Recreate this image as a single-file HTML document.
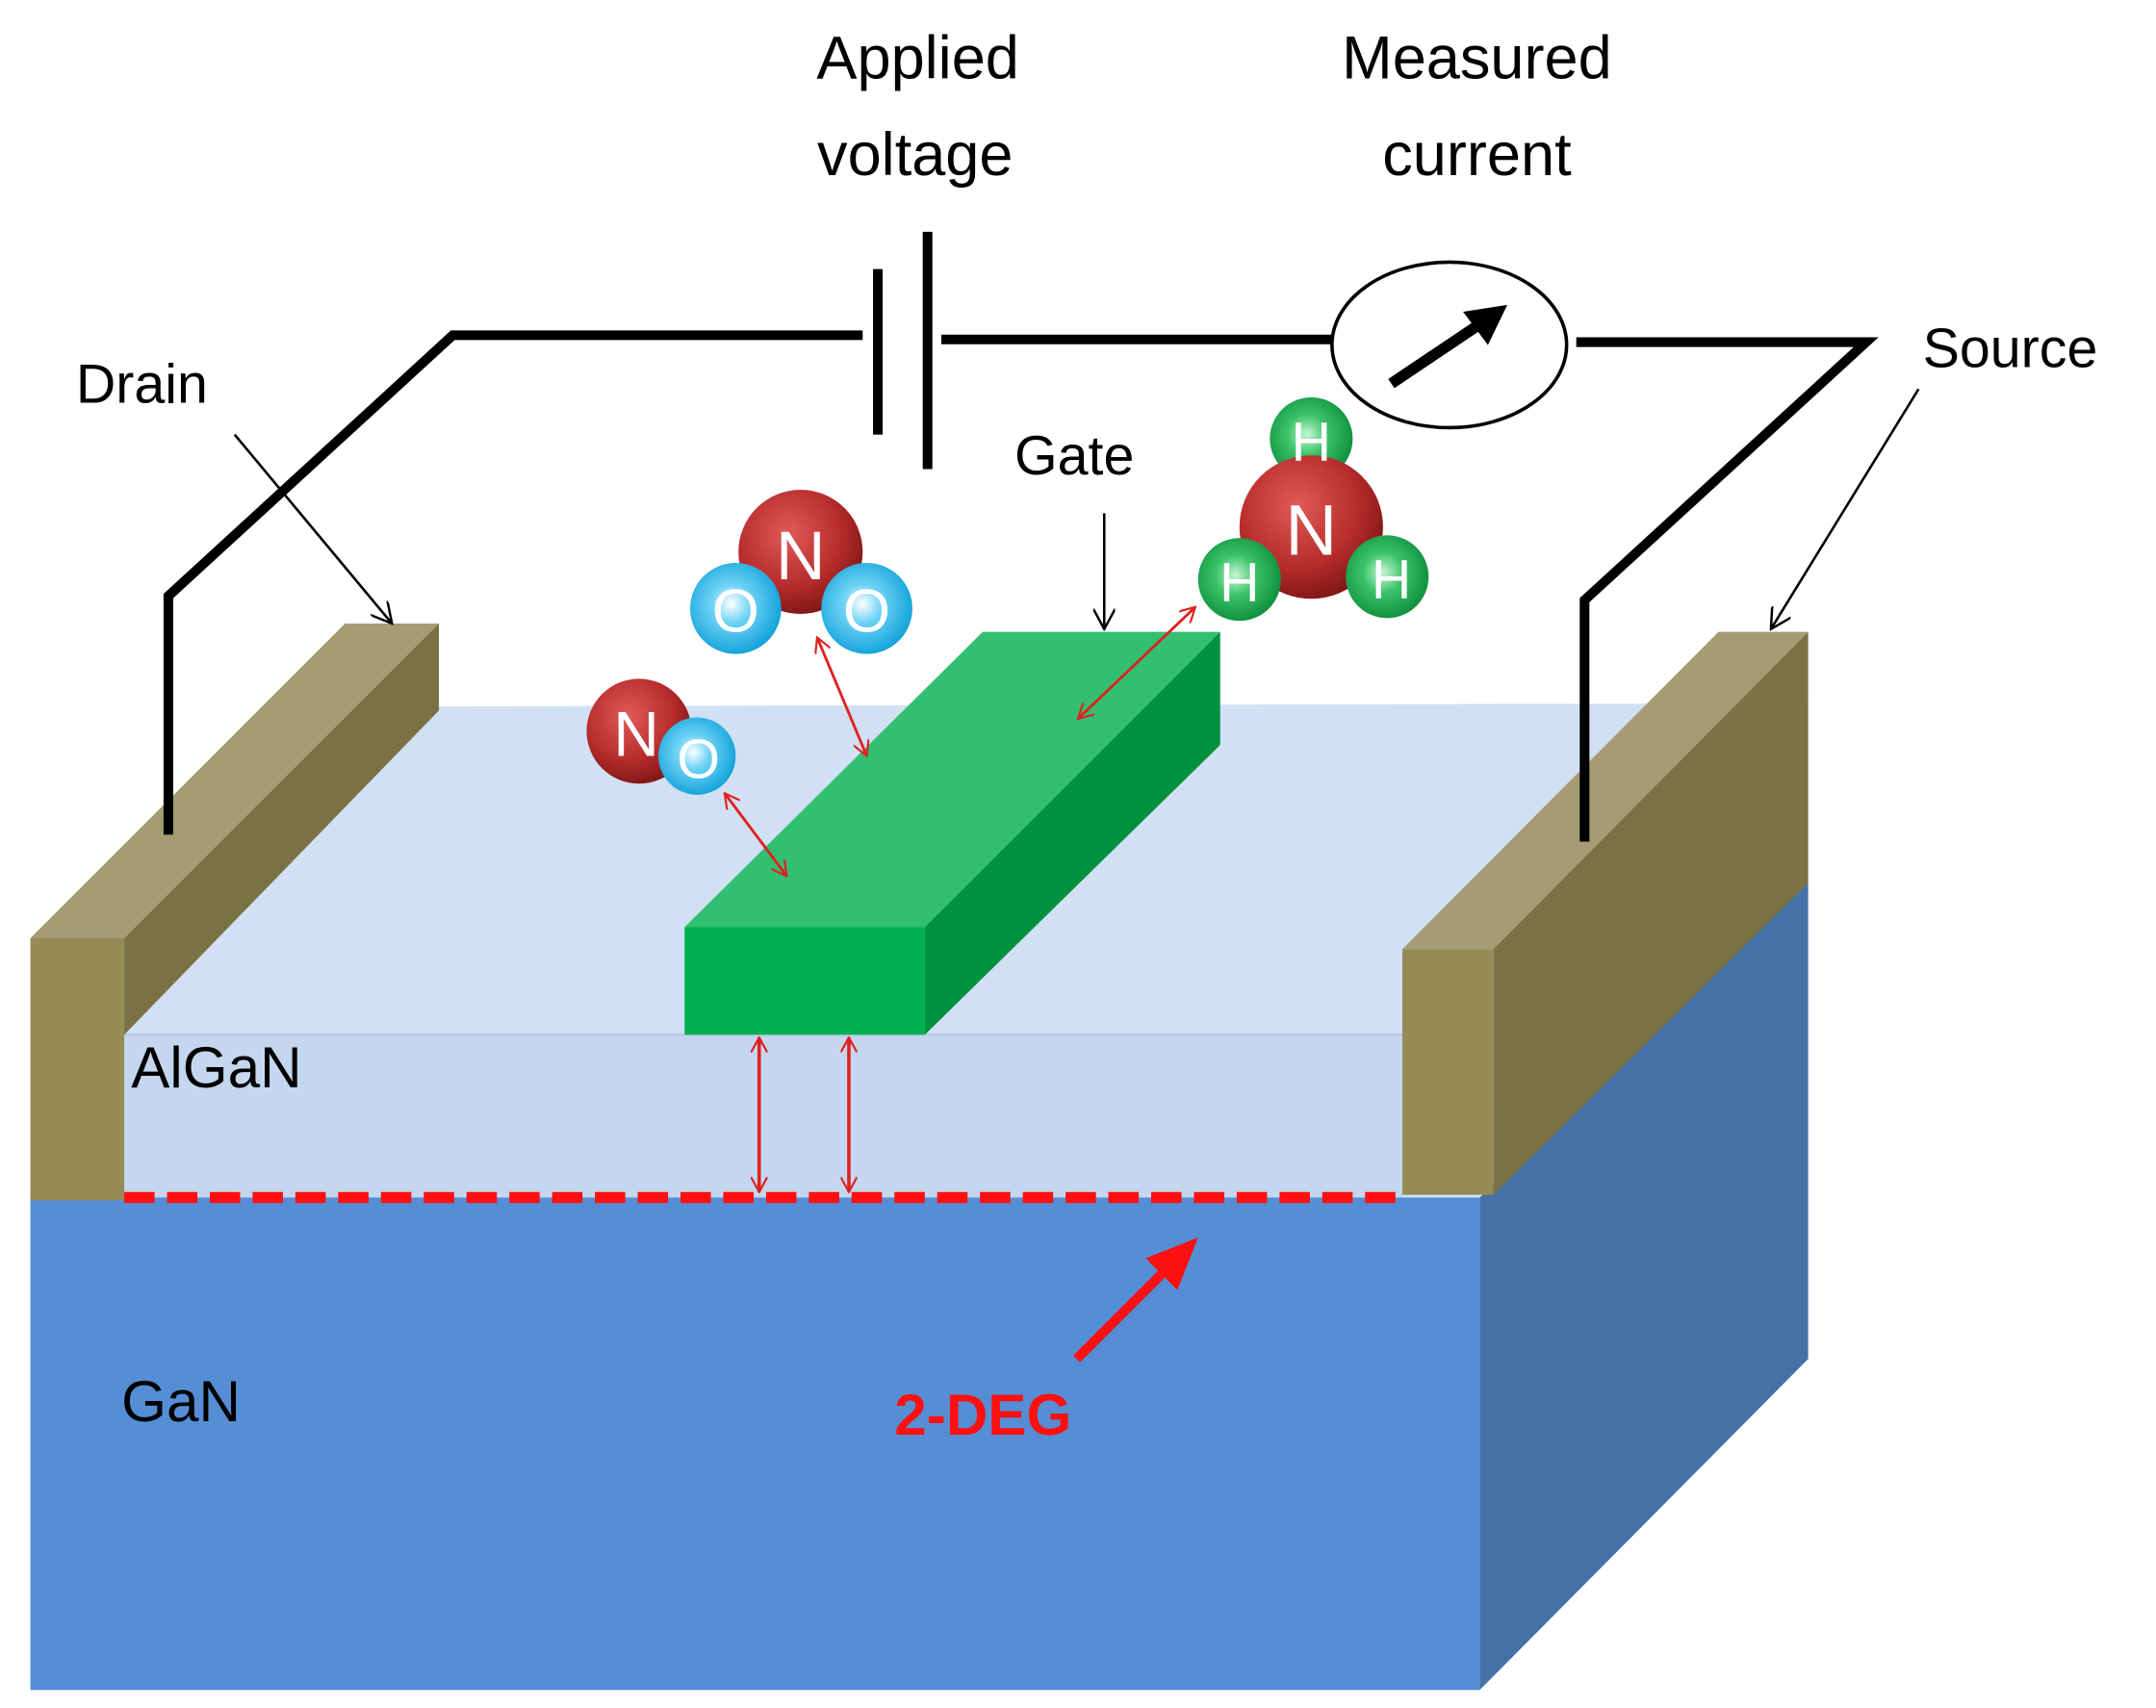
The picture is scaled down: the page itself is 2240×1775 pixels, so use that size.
<!DOCTYPE html>
<html><head><meta charset="utf-8"><style>
html,body{margin:0;padding:0;background:#fff;}
svg{display:block}
text{font-family:"Liberation Sans",sans-serif;}
</style></head><body>
<svg width="2240" height="1775" viewBox="0 0 1562 1238" preserveAspectRatio="none" xmlns="http://www.w3.org/2000/svg">
<defs>
<radialGradient id="rN" cx="0.4" cy="0.35" r="0.7"><stop offset="0" stop-color="#e05a5a"/><stop offset="0.6" stop-color="#b82c2c"/><stop offset="1" stop-color="#7a1414"/></radialGradient>
<radialGradient id="rO" cx="0.45" cy="0.45" r="0.6"><stop offset="0" stop-color="#ffffff"/><stop offset="0.35" stop-color="#6fd3f5"/><stop offset="1" stop-color="#0a9ed8"/></radialGradient>
<radialGradient id="rH" cx="0.45" cy="0.45" r="0.6"><stop offset="0" stop-color="#c8f5d6"/><stop offset="0.4" stop-color="#3cc46a"/><stop offset="1" stop-color="#0a8a3a"/></radialGradient>
<marker id="ah" viewBox="0 0 12 12" refX="11" refY="6" markerWidth="12" markerHeight="12" orient="auto-start-reverse" markerUnits="userSpaceOnUse"><path d="M0,0 L11,6 L0,12" fill="none" stroke="#e02020" stroke-width="1.5"/></marker>
<marker id="ak" viewBox="0 0 14 14" refX="13" refY="7" markerWidth="16" markerHeight="16" orient="auto" markerUnits="userSpaceOnUse"><path d="M0,0 L13,7 L0,14" fill="none" stroke="#000" stroke-width="1.5"/></marker>
</defs>
<rect x="22" y="868" width="1050" height="357" fill="#558ed5"/>
<polygon points="1072,868 1310,640 1310,985 1072,1225" fill="#4472a8"/>
<polygon points="90,750 318,512 1200,510 1310,510 1310,640 1072,868 1016,868 1016,750" fill="#d2e0f3"/>
<rect x="90" y="750" width="926" height="118" fill="#c5d7ee"/>
<line x1="90" y1="750" x2="1016" y2="750" stroke="#b9cbe4" stroke-width="2"/>
<polygon points="22,680 250,452 318,452 90,680" fill="#a59c74"/>
<polygon points="90,680 318,452 318,515 90,750" fill="#7a7145"/>
<rect x="22" y="680" width="68" height="190" fill="#968a56"/>
<polygon points="1016,688 1245,458 1310,458 1082,688" fill="#a59c74"/>
<polygon points="1082,688 1310,458 1310,640 1082,866" fill="#7a7145"/>
<rect x="1016" y="688" width="66" height="178" fill="#968a56"/>
<polygon points="496,672 712,458 884,458 670,672" fill="#33bf72"/>
<polygon points="670,672 884,458 884,540 670,750" fill="#00913f"/>
<rect x="496" y="672" width="174" height="78" fill="#00b050"/>
<line x1="90" y1="868" x2="1016" y2="868" stroke="#ff1010" stroke-width="8" stroke-dasharray="22,9"/>
<line x1="550" y1="752" x2="550" y2="864" stroke="#e02020" stroke-width="2.5" marker-start="url(#ah)" marker-end="url(#ah)"/>
<line x1="615" y1="752" x2="615" y2="864" stroke="#e02020" stroke-width="2.5" marker-start="url(#ah)" marker-end="url(#ah)"/>
<polyline points="122,605 122,432 328,243 625,243" fill="none" stroke="#000" stroke-width="7"/>
<line x1="636" y1="195" x2="636" y2="315" stroke="#000" stroke-width="7"/>
<line x1="672" y1="168" x2="672" y2="340" stroke="#000" stroke-width="7"/>
<line x1="682" y1="246" x2="965" y2="246" stroke="#000" stroke-width="7"/>
<ellipse cx="1050" cy="250" rx="85" ry="60" fill="none" stroke="#000" stroke-width="2.5"/>
<line x1="1008" y1="278" x2="1075" y2="233" stroke="#000" stroke-width="8"/>
<polygon points="1092,221 1060,226 1078,250" fill="#000"/>
<polyline points="1142,248 1352,248 1148,435 1148,610" fill="none" stroke="#000" stroke-width="7"/>
<text x="665" y="57" font-size="44" text-anchor="middle">Applied</text>
<text x="663" y="127" font-size="44" text-anchor="middle">voltage</text>
<text x="1070" y="57" font-size="44" text-anchor="middle">Measured</text>
<text x="1070" y="127" font-size="44" text-anchor="middle">current</text>
<text x="55" y="292" font-size="40">Drain</text>
<line x1="170" y1="315" x2="284" y2="452" stroke="#000" stroke-width="1.8" marker-end="url(#ak)"/>
<text x="1393" y="266" font-size="40">Source</text>
<line x1="1390" y1="282" x2="1283" y2="456" stroke="#000" stroke-width="1.8" marker-end="url(#ak)"/>
<text x="735" y="344" font-size="40">Gate</text>
<line x1="800" y1="372" x2="800" y2="456" stroke="#000" stroke-width="1.8" marker-end="url(#ak)"/>
<text x="95" y="788" font-size="42">AlGaN</text>
<text x="88" y="1030" font-size="42">GaN</text>
<text x="648" y="1040" font-size="42" font-weight="bold" fill="#ff1010">2-DEG</text>
<line x1="780" y1="985" x2="850" y2="915" stroke="#ff1010" stroke-width="7"/>
<polygon points="868,897 830,912 853,935" fill="#ff1010"/>
<line x1="592" y1="462" x2="628" y2="548" stroke="#e02020" stroke-width="2" marker-start="url(#ah)" marker-end="url(#ah)"/>
<line x1="525" y1="575" x2="570" y2="635" stroke="#e02020" stroke-width="2" marker-start="url(#ah)" marker-end="url(#ah)"/>
<line x1="781" y1="521" x2="866" y2="440" stroke="#e02020" stroke-width="2" marker-start="url(#ah)" marker-end="url(#ah)"/>
<circle cx="580" cy="400" r="45" fill="url(#rN)"/>
<circle cx="533" cy="441" r="33" fill="url(#rO)"/>
<circle cx="628" cy="441" r="33" fill="url(#rO)"/>
<text x="580" y="420" font-size="50" fill="#fff" text-anchor="middle">N</text>
<text x="533" y="458" font-size="44" fill="#fff" text-anchor="middle">O</text>
<text x="628" y="458" font-size="44" fill="#fff" text-anchor="middle">O</text>
<circle cx="463" cy="530" r="38" fill="url(#rN)"/>
<circle cx="505" cy="548" r="28" fill="url(#rO)"/>
<text x="461" y="548" font-size="46" fill="#fff" text-anchor="middle">N</text>
<text x="506" y="564" font-size="40" fill="#fff" text-anchor="middle">O</text>
<circle cx="950" cy="318" r="30" fill="url(#rH)"/>
<circle cx="950" cy="382" r="52" fill="url(#rN)"/>
<circle cx="898" cy="420" r="30" fill="url(#rH)"/>
<circle cx="1005" cy="418" r="30" fill="url(#rH)"/>
<text x="950" y="334" font-size="40" fill="#fff" text-anchor="middle">H</text>
<text x="950" y="402" font-size="52" fill="#fff" text-anchor="middle">N</text>
<text x="898" y="436" font-size="40" fill="#fff" text-anchor="middle">H</text>
<text x="1008" y="434" font-size="40" fill="#fff" text-anchor="middle">H</text>
</svg>
</body></html>
